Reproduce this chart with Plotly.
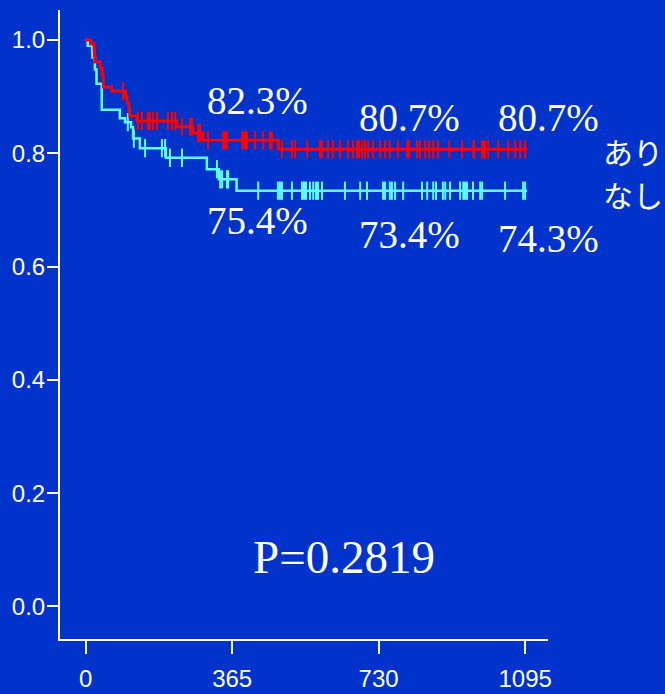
import numpy as np
import plotly.graph_objects as go

# Kaplan-Meier survival, group "あり"
ari_event_days = [13, 21, 22, 23, 36, 41, 43, 44, 65, 100, 103, 108, 110, 128, 227, 267, 292, 480]
ari_surv = [0.993, 0.982, 0.972, 0.961, 0.951, 0.940, 0.929, 0.917, 0.910, 0.899, 0.889,
            0.876, 0.866, 0.857, 0.847, 0.836, 0.823, 0.807]
ari_censor_days = [93, 130, 140, 155, 160, 168, 178, 205, 215, 223, 240, 260, 265, 280, 285,
                   305, 342, 347, 352, 390, 395, 398, 402, 422, 442, 459, 464, 489, 514, 522,
                   552, 584, 589, 604, 616, 634, 654, 666, 676, 681, 689, 696, 704, 716, 734,
                   746, 758, 778, 801, 806, 826, 833, 846, 856, 866, 878, 906, 938, 966, 968,
                   988, 990, 995, 1003, 1028, 1053, 1070, 1083, 1095]

# Kaplan-Meier survival, group "なし"
nashi_event_days = [5, 16, 17, 23, 27, 40, 85, 98, 113, 118, 135, 200, 302, 332, 376]
nashi_surv = [0.990, 0.980, 0.969, 0.948, 0.923, 0.877, 0.862, 0.855, 0.846, 0.826, 0.809,
              0.792, 0.772, 0.754, 0.734]
nashi_censor_days = [105, 120, 148, 190, 198, 210, 240, 327, 335, 340, 352, 355, 430, 479, 484,
                     489, 514, 539, 544, 549, 559, 567, 574, 579, 589, 646, 684, 701, 741, 746,
                     758, 763, 771, 791, 838, 851, 866, 873, 890, 896, 908, 933, 941, 945, 950,
                     965, 983, 988, 1045, 1090, 1095]

follow_up_end = 1100

# Survival rates printed at 1, 2 and 3 years
ari_rate_labels = ["82.3%", "80.7%", "80.7%"]
nashi_rate_labels = ["75.4%", "73.4%", "74.3%"]
group_labels = ["あり", "なし"]
p_value_label = "P=0.2819"

x_tick_vals = [0, 365, 730, 1095]
y_tick_vals = [0.0, 0.2, 0.4, 0.6, 0.8, 1.0]

BG = "#0033CC"
RED = "#FF0000"
CYAN = "#5CFFFF"
WHITE = "#FFFFFF"


def step_curve(event_days, surv, end_day):
    xs = [0] + list(event_days) + [end_day]
    ys = [1.0] + list(surv) + [surv[-1]]
    return xs, ys


def surv_at(days, event_days, surv):
    t = np.asarray(event_days)
    s = np.concatenate([[1.0], surv])
    idx = np.searchsorted(t, np.asarray(days), side="right")
    return s[idx]


fig = go.Figure()

for ev, sv, cens, color, w in [
    (nashi_event_days, nashi_surv, nashi_censor_days, CYAN, 2.5),
    (ari_event_days, ari_surv, ari_censor_days, RED, 3),
]:
    xs, ys = step_curve(ev, sv, follow_up_end)
    fig.add_trace(go.Scatter(x=xs, y=ys, mode="lines", line=dict(color=color, width=w, shape="hv"),
                             hoverinfo="skip", showlegend=False))
    fig.add_trace(go.Scatter(x=cens, y=surv_at(cens, ev, sv), mode="markers",
                             marker=dict(symbol="line-ns", size=13,
                                         line=dict(color=color, width=2)),
                             hoverinfo="skip", showlegend=False))

serif = "Liberation Serif, Times New Roman, serif"
pct_font = dict(family=serif, size=39, color=WHITE)

ari_pos = [(429, 0.893), (806, 0.863), (1152, 0.863)]
nashi_pos = [(429, 0.681), (806, 0.656), (1152, 0.650)]
for txt, (x, y) in zip(ari_rate_labels + nashi_rate_labels, ari_pos + nashi_pos):
    fig.add_annotation(x=x, y=y, xref="x", yref="y", text=txt, showarrow=False,
                       font=pct_font, xanchor="center", yanchor="middle")

jp_font = dict(family="Noto Sans CJK JP, sans-serif", size=30, color=WHITE)
for txt, y in zip(group_labels, [0.804, 0.728]):
    fig.add_annotation(x=1.0, y=y, xref="paper", yref="y", text=txt, showarrow=False,
                       font=jp_font, xanchor="left", yanchor="middle", xshift=53)

fig.add_annotation(x=643, y=0.0865, xref="x", yref="y", text=p_value_label, showarrow=False,
                   font=dict(family=serif, size=47, color=WHITE),
                   xanchor="center", yanchor="middle")

sans = "Liberation Sans, Arial, sans-serif"
fig.update_layout(
    width=665, height=694,
    margin=dict(l=60, r=117, t=10, b=55, autoexpand=False),
    paper_bgcolor=BG, plot_bgcolor=BG,
    font=dict(family=sans, color=WHITE, size=24),
    xaxis=dict(range=[-64, 1152], tickvals=x_tick_vals, ticks="outside", ticklen=13,
               tickwidth=2, tickcolor=WHITE, showline=True, linecolor=WHITE, linewidth=2,
               showgrid=False, zeroline=False, ticklabelstandoff=4, automargin=False,
               tickfont=dict(family=sans, size=24, color=WHITE)),
    yaxis=dict(range=[-0.0574, 1.053], tickvals=y_tick_vals, tickformat=".1f",
               ticks="outside", ticklen=11, tickwidth=2, tickcolor=WHITE, automargin=False,
               showline=True, linecolor=WHITE, linewidth=2, showgrid=False, zeroline=False,
               ticklabelstandoff=-3, tickfont=dict(family=sans, size=24, color=WHITE)),
)

fig.write_html("out.html")
